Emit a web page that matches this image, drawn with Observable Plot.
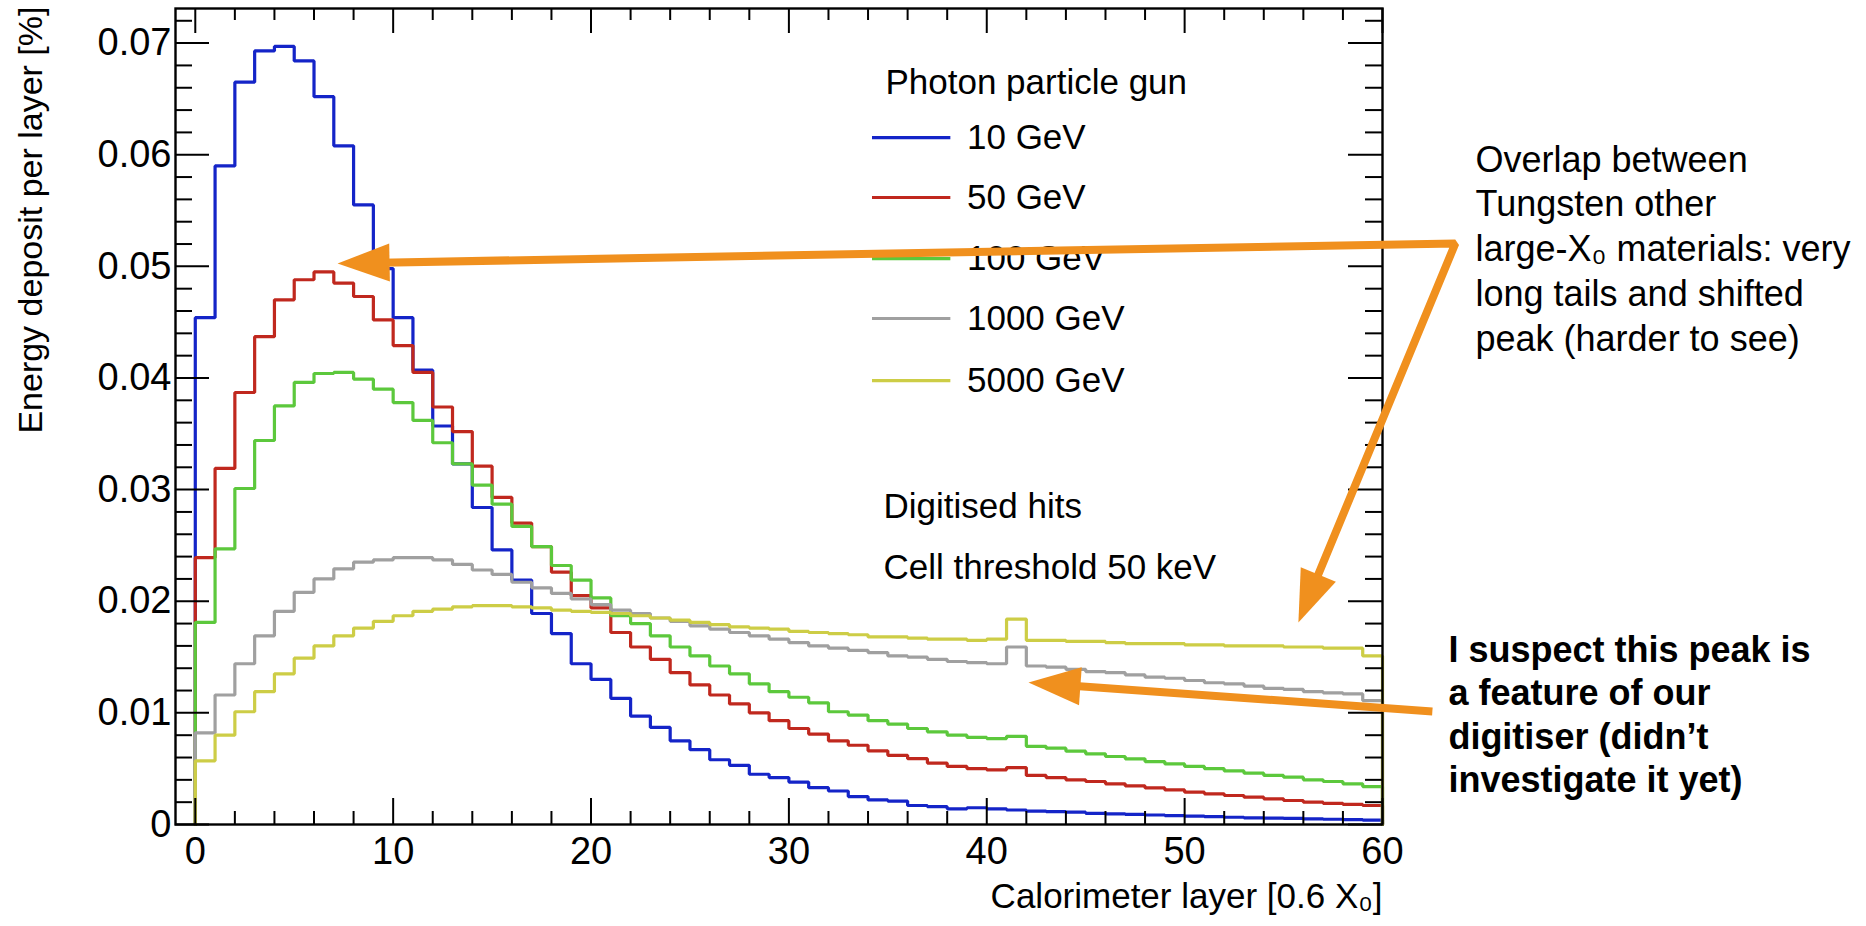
<!DOCTYPE html>
<html>
<head>
<meta charset="utf-8">
<script src="https://cdn.jsdelivr.net/npm/d3@7"></script>
<script src="https://cdn.jsdelivr.net/npm/@observablehq/plot@0.6"></script>
<style>
  html, body { margin: 0; padding: 0; background: #fff; }
  #chart { width: 1866px; height: 926px; }
  #chart svg { font-family: "Liberation Sans", Arial, Helvetica, sans-serif; }
</style>
</head>
<body>
<div id="chart"></div>
<script>
// ---------------- DATA ----------------
const seriesNames = ["10 GeV", "50 GeV", "100 GeV", "1000 GeV", "5000 GeV"];
const seriesColors = ["#1424c8", "#c0281e", "#5cc83c", "#a0a0a0", "#cdcd46"];

// energy deposit fraction per calorimeter layer (bins 0..59)
const gev10 = [0.0454,0.0590,0.0665,0.0693,0.0697,0.0684,0.0652,0.0608,0.0555,0.0498,
  0.0454,0.0407,0.0357,0.0323,0.0284,0.0246,0.0219,0.0189,0.0171,0.0144,
  0.0130,0.0113,0.0097,0.0087,0.0075,0.0067,0.0058,0.0053,0.0045,0.0042,
  0.0038,0.0033,0.0030,0.0025,0.0022,0.0021,0.0017,0.0016,0.0014,0.0015,
  0.0014,0.0013,0.0012,0.00115,0.0011,0.0010,0.00095,0.0009,0.00085,0.0008,
  0.00075,0.0007,0.00065,0.0006,0.00058,0.00055,0.0005,0.00047,0.00044,0.0004];
const gev50 = [0.0239,0.0319,0.0387,0.0437,0.0470,0.0488,0.0495,0.0485,0.0473,0.0452,
  0.0429,0.0405,0.0374,0.0352,0.0321,0.0293,0.0270,0.0249,0.0226,0.0205,
  0.0194,0.0172,0.0159,0.0148,0.0136,0.0125,0.0116,0.0108,0.0100,0.0093,
  0.0086,0.0081,0.0075,0.0071,0.0066,0.0062,0.0059,0.0055,0.0052,0.0050,
  0.0049,0.0051,0.0044,0.0042,0.0040,0.00385,0.00364,0.00346,0.00328,0.0031,
  0.0029,0.00275,0.0026,0.00245,0.0023,0.00215,0.0020,0.0019,0.0018,0.0017];
const gev100 = [0.0181,0.0247,0.0301,0.0344,0.0375,0.0396,0.0404,0.0405,0.0399,0.0390,
  0.0378,0.0362,0.0342,0.0323,0.0304,0.0287,0.0267,0.0249,0.0232,0.0219,
  0.0203,0.0187,0.0180,0.0169,0.0159,0.0151,0.0142,0.0135,0.0126,0.0119,
  0.0114,0.0109,0.0101,0.0098,0.0093,0.0090,0.0086,0.0083,0.0080,0.0078,
  0.0077,0.0079,0.0070,0.00684,0.00657,0.00633,0.00609,0.00588,0.00564,0.00543,
  0.0052,0.0050,0.0048,0.0046,0.0044,0.00424,0.0040,0.00385,0.00364,0.0034];
const gev1000 = [0.0082,0.0116,0.0144,0.0169,0.0191,0.0208,0.0220,0.0229,0.0235,0.0237,
  0.0239,0.0239,0.0237,0.0233,0.0228,0.0224,0.0217,0.0212,0.0207,0.0202,
  0.0197,0.0192,0.0189,0.0185,0.0182,0.0178,0.0175,0.0172,0.0169,0.0166,
  0.0163,0.0160,0.0158,0.0156,0.0154,0.0151,0.0150,0.0148,0.0146,0.0145,
  0.0144,0.0159,0.0142,0.0141,0.0139,0.0137,0.0136,0.0134,0.0132,0.0131,
  0.0129,0.0127,0.0126,0.0124,0.0122,0.0121,0.0119,0.0118,0.0117,0.0111];
const gev5000 = [0.0057,0.0080,0.0101,0.0119,0.0135,0.0149,0.0160,0.0169,0.0176,0.0182,
  0.0187,0.0191,0.0193,0.0195,0.0196,0.0196,0.0195,0.0194,0.0192,0.0191,
  0.0190,0.0189,0.0187,0.0185,0.0183,0.0181,0.0179,0.0177,0.0176,0.0175,
  0.0173,0.0172,0.0171,0.0170,0.0168,0.0168,0.0167,0.0166,0.0166,0.0165,
  0.0166,0.0184,0.0165,0.0165,0.0164,0.0164,0.0163,0.0162,0.0162,0.0162,
  0.0161,0.0161,0.0160,0.0160,0.0160,0.0159,0.0159,0.0158,0.0158,0.0151];
const seriesValues = [gev10, gev50, gev100, gev1000, gev5000];

// axis ticks
const xMajorTicks = [0, 10, 20, 30, 40, 50, 60];
const xMinorTicks = [2,4,6,8,12,14,16,18,22,24,26,28,32,34,36,38,42,44,46,48,52,54,56,58];
const yMajorTicks = [0, 0.01, 0.02, 0.03, 0.04, 0.05, 0.06, 0.07];
const yTickLabels = ["0", "0.01", "0.02", "0.03", "0.04", "0.05", "0.06", "0.07"];
const yMinorTicks = [0.002,0.004,0.006,0.008,0.012,0.014,0.016,0.018,0.022,0.024,0.026,0.028,
  0.032,0.034,0.036,0.038,0.042,0.044,0.046,0.048,0.052,0.054,0.056,0.058,
  0.062,0.064,0.066,0.068,0.072];

const xTitle = "Calorimeter layer [0.6 X\u2080]";
const yTitle = "Energy deposit per layer [%]";
const legendTitle = "Photon particle gun";
const infoLines = ["Digitised hits", "Cell threshold 50 keV"];
const noteTungsten = "Overlap between\nTungsten other\nlarge-X\u2080 materials: very\nlong tails and shifted\npeak (harder to see)";
const noteDigitiser = "I suspect this peak is\na feature of our\ndigitiser (didn\u2019t\ninvestigate it yet)";

// annotation anchor points, in data units (layer, deposit)
const legendLineX = [34.2, 38.16];
const legendTextX = 39.0;
const legendRowsY = [0.06154, 0.05617, 0.0507, 0.04533, 0.03977];
const legendTitlePos = {x: 34.88, y: 0.06647};
const infoPos = [{x: 34.78, y: 0.02849}, {x: 34.78, y: 0.02302}];
const noteTungstenPos = {x: 64.70, y: 0.06136};
const noteDigitiserPos = {x: 63.33, y: 0.01729};
const arrowCorner = {x: 63.68, y: 0.05205};
const arrowTipPeak = {x: 7.19, y: 0.05026};
const arrowTipTail = {x: 55.75, y: 0.0181};
const arrowDigiFrom = {x: 62.52, y: 0.01012};
const arrowDigiTip = {x: 42.11, y: 0.01272};

// ---------------- LAYOUT ----------------
const W = 1866, H = 926;
const M = {left: 175, right: 484, top: 8, bottom: 102};
const xDomain = [-1, 60], yDomain = [0, 0.0731];
const plotW = W - M.left - M.right, plotH = H - M.top - M.bottom;
const sx = v => M.left + (v - xDomain[0]) / (xDomain[1] - xDomain[0]) * plotW;
const sy = v => H - M.bottom - (v - yDomain[0]) / (yDomain[1] - yDomain[0]) * plotH;
const ix = p => xDomain[0] + (p - M.left) / plotW * (xDomain[1] - xDomain[0]);
const iy = p => yDomain[0] + (H - M.bottom - p) / plotH * (yDomain[1] - yDomain[0]);
const orange = "#f0901e";

// histogram outlines (step)
const rows = [];
seriesNames.forEach((name, k) => {
  const v = seriesValues[k];
  rows.push({s: name, x: 0, y: 0});
  v.forEach((val, i) => rows.push({s: name, x: i, y: val}));
  rows.push({s: name, x: v.length, y: 0});
});

// arrows: shaft end pulled back from tip, head rotation in pixel space
function arrowGeom(tail, tip) {
  const dx = sx(tip.x) - sx(tail.x), dy = sy(tip.y) - sy(tail.y);
  const len = Math.hypot(dx, dy), ux = dx / len, uy = dy / len;
  const ex = sx(tip.x) - ux * 30, ey = sy(tip.y) - uy * 30;
  return {end: {x: ix(ex), y: iy(ey)}, head: {x: tip.x, y: tip.y, angle: Math.atan2(dx, -dy) * 180 / Math.PI}};
}
const a1 = arrowGeom(arrowCorner, arrowTipPeak);
const a2 = arrowGeom(arrowCorner, arrowTipTail);
const a3 = arrowGeom(arrowDigiFrom, arrowDigiTip);
const shafts = [
  {g: 1, ...a1.end}, {g: 1, ...arrowCorner}, {g: 1, ...a2.end},
  {g: 2, ...arrowDigiFrom}, {g: 2, ...a3.end}
];
const heads = [a1.head, a2.head, a3.head];
const headSymbol = {draw(ctx) { ctx.moveTo(0, 0); ctx.lineTo(-19, 52); ctx.lineTo(19, 52); ctx.closePath(); }};

const legendRows = seriesNames.map((s, i) => ({s, y: legendRowsY[i]}));

const chart = Plot.plot({
  width: W, height: H,
  marginLeft: M.left, marginRight: M.right, marginTop: M.top, marginBottom: M.bottom,
  x: {domain: xDomain, axis: null},
  y: {domain: yDomain, axis: null},
  color: {domain: seriesNames, range: seriesColors},
  marks: [
    Plot.line(rows, {x: "x", y: "y", z: "s", stroke: "s", curve: "step-after", strokeWidth: 3.2, strokeLinejoin: "miter"}),
    // ticks (ROOT style, inward)
    Plot.ruleX(xMajorTicks, {x: d => d, insetTop: plotH - 26, stroke: "#000", strokeWidth: 2}),
    Plot.ruleX(xMajorTicks, {x: d => d, insetBottom: plotH - 25, stroke: "#000", strokeWidth: 2}),
    Plot.ruleX(xMinorTicks, {x: d => d, insetTop: plotH - 13, stroke: "#000", strokeWidth: 2}),
    Plot.ruleX(xMinorTicks, {x: d => d, insetBottom: plotH - 12, stroke: "#000", strokeWidth: 2}),
    Plot.ruleY(yMajorTicks, {y: d => d, insetRight: plotW - 34, stroke: "#000", strokeWidth: 2}),
    Plot.ruleY(yMajorTicks, {y: d => d, insetLeft: plotW - 34, stroke: "#000", strokeWidth: 2}),
    Plot.ruleY(yMinorTicks, {y: d => d, insetRight: plotW - 17, stroke: "#000", strokeWidth: 2}),
    Plot.ruleY(yMinorTicks, {y: d => d, insetLeft: plotW - 17, stroke: "#000", strokeWidth: 2}),
    Plot.frame({stroke: "#000", strokeWidth: 2.4}),
    // tick labels
    Plot.text(xMajorTicks, {x: d => d, text: d => String(d), frameAnchor: "bottom", dy: 13, lineAnchor: "top", fontSize: 38, fill: "#000"}),
    Plot.text(yMajorTicks, {y: d => d, text: (d, i) => yTickLabels[i], frameAnchor: "left", dx: -4, textAnchor: "end", lineAnchor: "middle", fontSize: 38, fill: "#000"}),
    // axis titles
    Plot.text([xTitle], {text: d => d, frameAnchor: "bottom-right", dy: 83, textAnchor: "end", lineAnchor: "bottom", fontSize: 35, fill: "#000"}),
    Plot.text([yTitle], {text: d => d, frameAnchor: "top-left", dx: -134, dy: -2, rotate: -90, textAnchor: "end", lineAnchor: "bottom", fontSize: 34, fill: "#000"}),
    // legend
    Plot.text([legendTitle], {x: legendTitlePos.x, y: legendTitlePos.y, text: d => d, textAnchor: "start", lineAnchor: "middle", fontSize: 35, fill: "#000"}),
    Plot.link(legendRows, {x1: legendLineX[0], x2: legendLineX[1], y1: "y", y2: "y", stroke: "s", strokeWidth: 3.2}),
    Plot.text(legendRows, {x: legendTextX, y: "y", text: "s", textAnchor: "start", lineAnchor: "middle", fontSize: 35, fill: "#000"}),
    Plot.text(infoLines, {x: (d, i) => infoPos[i].x, y: (d, i) => infoPos[i].y, text: d => d, textAnchor: "start", lineAnchor: "middle", fontSize: 35, fill: "#000"}),
    // notes
    Plot.text([noteTungsten], {x: noteTungstenPos.x, y: noteTungstenPos.y, text: d => d, textAnchor: "start", lineAnchor: "top", lineHeight: 1.25, fontSize: 36, fill: "#000"}),
    Plot.text([noteDigitiser], {x: noteDigitiserPos.x, y: noteDigitiserPos.y, text: d => d, textAnchor: "start", lineAnchor: "top", lineHeight: 1.2, fontSize: 36, fontWeight: "bold", fill: "#000"}),
    // arrows
    Plot.line(shafts, {x: "x", y: "y", z: "g", stroke: orange, strokeWidth: 8, strokeLinejoin: "miter", strokeLinecap: "butt"}),
    Plot.dot(heads, {x: "x", y: "y", rotate: "angle", symbol: headSymbol, r: 10, fill: orange, stroke: "none"})
  ]
});
document.getElementById("chart").append(chart);
</script>
</body>
</html>
